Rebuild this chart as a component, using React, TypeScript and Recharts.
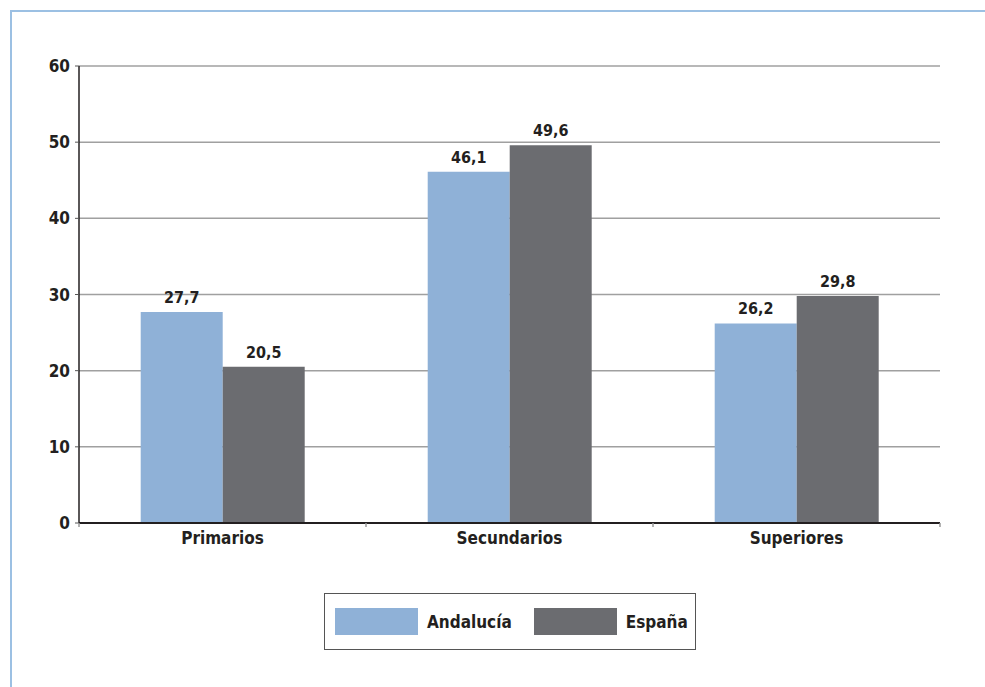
import React from 'react';
import { Bar, BarChart, CartesianGrid, LabelList, Legend, XAxis, YAxis } from 'recharts';

const categories = ['Primarios', 'Secundarios', 'Superiores'];
const andalucia = [27.7, 46.1, 26.2];
const espana = [20.5, 49.6, 29.8];
const yTicks = [0, 10, 20, 30, 40, 50, 60];

const seriesNames = { andalucia: 'Andalucía', espana: 'España' };
const colors = { andalucia: '#8FB1D7', espana: '#6B6C70' };

const data = categories.map((name, i) => ({
  name,
  andalucia: andalucia[i],
  espana: espana[i],
}));

const FONT = "'Liberation Sans Narrow', 'DejaVu Sans Condensed', 'Roboto Condensed', Roboto, sans-serif";
const TEXT = '#231F20';

const formatValue = (v: any) => String(v).replace('.', ',');

function CategoryTick(props: any) {
  const { x, y, payload, index } = props;
  const half = payload?.offset ?? 0;
  const axisY = y - 10;
  return (
    <g>
      {index === 0 && (
        <line x1={x - half} x2={x - half} y1={axisY} y2={axisY + 4} stroke="#999" strokeWidth={1.5} />
      )}
      <line x1={x + half} x2={x + half} y1={axisY} y2={axisY + 4} stroke="#999" strokeWidth={1.5} />
      <text x={x} y={y - 1} dy="0.71em" textAnchor="middle" fill={TEXT} fontSize={17} fontWeight="bold" fontFamily={FONT}>
        {payload.value}
      </text>
    </g>
  );
}

function LegendBox() {
  const items = [
    { key: 'andalucia', label: seriesNames.andalucia, color: colors.andalucia },
    { key: 'espana', label: seriesNames.espana, color: colors.espana },
  ];
  return (
    <div
      style={{
        width: 372,
        height: 57,
        border: '1px solid #555',
        boxSizing: 'border-box',
        display: 'flex',
        alignItems: 'center',
        paddingLeft: 10,
        fontFamily: FONT,
      }}
    >
      {items.map((it, i) => (
        <div key={it.key} style={{ display: 'flex', alignItems: 'center', marginLeft: i === 0 ? 0 : 22 }}>
          <div style={{ width: 83, height: 27, background: it.color }} />
          <span style={{ marginLeft: 9, fontSize: 17, fontWeight: 'bold', color: TEXT }}>{it.label}</span>
        </div>
      ))}
    </div>
  );
}

export default function App() {
  return (
    <div style={{ position: 'absolute', left: 0, top: 0, width: 985, height: 687, background: '#fff' }}>
      <div
        style={{
          position: 'absolute',
          left: 10,
          top: 10,
          right: 0,
          bottom: 0,
          borderLeft: '2px solid #9CC0E3',
          borderTop: '2px solid #9CC0E3',
        }}
      />
      <BarChart
        width={985}
        height={687}
        data={data}
        margin={{ top: 66, right: 45, bottom: 134, left: 0 }}
        barCategoryGap="21.5%"
        barGap={0}
        style={{ position: 'absolute', left: 0, top: 0 }}
      >
        <CartesianGrid vertical={false} stroke="#A0A0A0" strokeWidth={1.5} />
        <XAxis
          dataKey="name"
          height={30}
          axisLine={{ stroke: '#231F20', strokeWidth: 2 }}
          tickLine={false}
          tickSize={4}
          tickMargin={6}
          tick={<CategoryTick />}
          interval={0}
        />
        <YAxis
          width={79}
          domain={[0, 60]}
          ticks={yTicks}
          interval={0}
          axisLine={{ stroke: '#231F20', strokeWidth: 1.5 }}
          tickLine={{ stroke: '#555' }}
          tickSize={4}
          tickMargin={5}
          tick={{ fill: TEXT, fontSize: 17, fontWeight: 'bold', fontFamily: FONT }}
        />
        <Legend
          layout="horizontal"
          verticalAlign="middle"
          align="center"
          wrapperStyle={{ position: 'absolute', left: 324, top: 593, width: 372 }}
          content={() => <LegendBox />}
        />
        <Bar dataKey="andalucia" name={seriesNames.andalucia} fill={colors.andalucia} isAnimationActive={false}>
          <LabelList
            dataKey="andalucia"
            position="top"
            offset={9}
            formatter={formatValue}
            fill={TEXT}
            fontSize={16}
            fontWeight="bold"
            fontFamily={FONT}
          />
        </Bar>
        <Bar dataKey="espana" name={seriesNames.espana} fill={colors.espana} isAnimationActive={false}>
          <LabelList
            dataKey="espana"
            position="top"
            offset={9}
            formatter={formatValue}
            fill={TEXT}
            fontSize={16}
            fontWeight="bold"
            fontFamily={FONT}
          />
        </Bar>
      </BarChart>
    </div>
  );
}
